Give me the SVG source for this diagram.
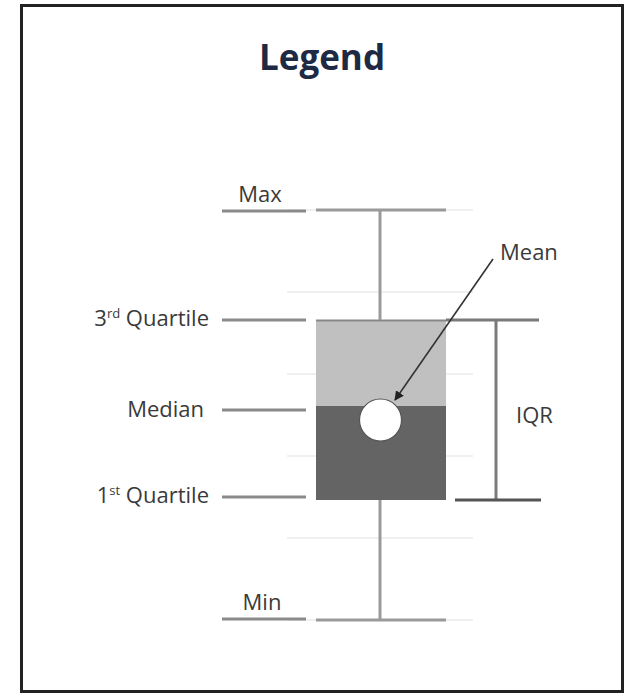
<svg xmlns="http://www.w3.org/2000/svg" width="633" height="696" viewBox="0 0 633 696">
<defs>
<style>
.lbl{font-family:"Open Sans","Liberation Sans",sans-serif;font-size:22px;fill:#3a3a3a}
.sup{font-size:13px}
.title{font-family:"Open Sans","Liberation Sans",sans-serif;font-size:35px;font-weight:bold;fill:#1e2a44}
.grid{stroke:#f0f0f0;stroke-width:2}
.tick{stroke:#8a8a8a;stroke-width:3}
.wh{stroke:#9a9a9a;stroke-width:3}
.br{stroke:#7a7a7a;stroke-width:3}
</style>
<marker id="ah" viewBox="0 0 10 10" refX="9" refY="5" markerWidth="6" markerHeight="6" orient="auto" markerUnits="strokeWidth">
<path d="M0,0 L10,5 L0,10 z" fill="#222"/>
</marker>
</defs>
<rect x="0" y="0" width="633" height="696" fill="#ffffff"/>
<rect id="frame" x="21.5" y="5.5" width="601" height="686" fill="#ffffff" stroke="#222" stroke-width="3"/>
<g id="title"><text class="title" x="322" y="70" text-anchor="middle">Legend</text></g>
<g id="gridlines">
<line class="grid" x1="287" y1="210" x2="473" y2="210"/>
<line class="grid" x1="287" y1="292" x2="473" y2="292"/>
<line class="grid" x1="287" y1="374" x2="473" y2="374"/>
<line class="grid" x1="287" y1="456" x2="473" y2="456"/>
<line class="grid" x1="287" y1="538" x2="473" y2="538"/>
<line class="grid" x1="287" y1="620" x2="473" y2="620"/>
</g>
<g id="box">
<rect x="316" y="320" width="130" height="86" fill="#c0c0c0"/>
<rect x="316" y="406" width="130" height="94" fill="#646464"/>
<line x1="316" y1="320.5" x2="446" y2="320.5" stroke="#888" stroke-width="2"/>
</g>
<g id="whiskers">
<line class="wh" x1="316" y1="210" x2="446" y2="210"/>
<line class="wh" x1="380" y1="210" x2="380" y2="320"/>
<line class="wh" x1="380" y1="500" x2="380" y2="620"/>
<line class="wh" x1="316" y1="620" x2="446" y2="620"/>
</g>
<g id="mean-dot"><circle cx="380.5" cy="420" r="21" fill="#ffffff" stroke="#555" stroke-width="1.2"/></g>
<g id="label-max"><line class="tick" x1="222" y1="211" x2="306" y2="211"/><text class="lbl" x="260" y="202" text-anchor="middle">Max</text></g>
<g id="label-q3"><line class="tick" x1="222" y1="320" x2="306" y2="320"/><text class="lbl" x="209" y="326" text-anchor="end">3<tspan class="sup" dy="-8">rd</tspan><tspan dy="8"> Quartile</tspan></text></g>
<g id="label-median"><line class="tick" x1="222" y1="410" x2="306" y2="410"/><text class="lbl" x="204" y="417" text-anchor="end">Median</text></g>
<g id="label-q1"><line class="tick" x1="222" y1="497" x2="306" y2="497"/><text class="lbl" x="209" y="503" text-anchor="end">1<tspan class="sup" dy="-8">st</tspan><tspan dy="8"> Quartile</tspan></text></g>
<g id="label-min"><line class="tick" x1="222" y1="619" x2="306" y2="619"/><text class="lbl" x="262" y="610" text-anchor="middle">Min</text></g>
<g id="label-mean"><text class="lbl" x="500" y="260">Mean</text></g>
<g id="iqr-bracket">
<line class="br" x1="446" y1="320" x2="539" y2="320"/>
<line class="br" x1="496" y1="320" x2="496" y2="500"/>
<line x1="455" y1="500" x2="541" y2="500" stroke="#555" stroke-width="3"/>
<text class="lbl" x="516" y="423">IQR</text>
</g>
<g id="connectors">
<line x1="493" y1="259" x2="395" y2="400" stroke="#333" stroke-width="1.6" marker-end="url(#ah)"/>
</g>
</svg>
